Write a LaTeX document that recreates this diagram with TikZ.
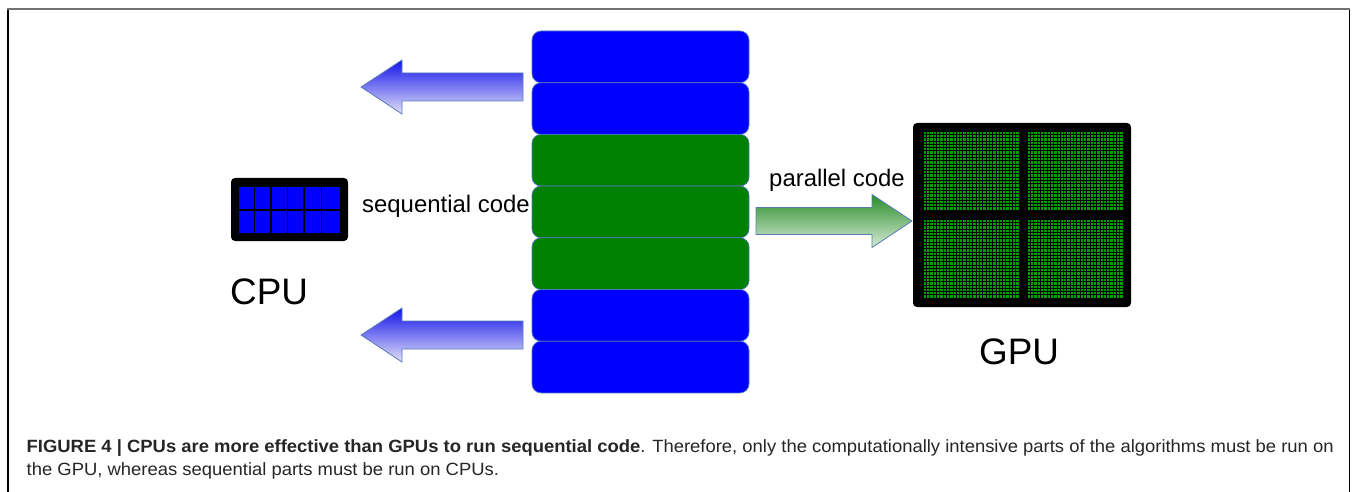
\documentclass[tikz,border=0pt]{standalone}
\usepackage{fontspec}
\setmainfont{Liberation Sans}
\usepackage{graphicx}
\usetikzlibrary{calc}
\definecolor{bblue}{RGB}{0,0,255}
\definecolor{bgreen}{RGB}{0,128,0}
\definecolor{bedge}{RGB}{80,120,190}
\definecolor{gcell}{RGB}{0,160,0}
\definecolor{arrblueT}{RGB}{20,20,235}
\definecolor{arrblueB}{RGB}{225,225,248}
\definecolor{arrgreenT}{RGB}{40,140,40}
\definecolor{arrgreenB}{RGB}{215,235,215}
\definecolor{arredge}{RGB}{90,125,185}
\newsavebox\capbox
\begin{document}
\sbox\capbox{\fontsize{17.8}{20}\selectfont\textbf{FIGURE 4 | CPUs are more effective than GPUs to run sequential code}. Therefore, only the computationally intensive parts of the algorithms must be run on}%
\pgfmathsetmacro\capscale{1307bp/\the\wd\capbox}%
\begin{tikzpicture}[x=1bp,y=-1bp,
  blk/.style={draw=bedge, line width=0.7bp, rounded corners=9bp, minimum width=217bp, minimum height=51.7bp, inner sep=0},
  blueblk/.style={blk, fill=bblue},
  greenblk/.style={blk, fill=bgreen},
  barrow/.style={draw=arredge, line width=0.8bp, top color=arrblueT, bottom color=arrblueB},
  garrow/.style={draw=arredge, line width=0.8bp, top color=arrgreenT, bottom color=arrgreenB},
  lbl/.style={anchor=base west, inner sep=0, font=\fontsize{24}{28}\selectfont},
  biglbl/.style={anchor=base west, inner sep=0, font=\fontsize{37}{42}\selectfont},
  capfont/.style={anchor=base west, inner sep=0, font=\fontsize{17.8}{20}\selectfont, text=black!85}
]
\useasboundingbox (0,0) rectangle (1356,492);
\fill[white] (0,0) rectangle (1356,492);
% frame
\draw[line width=1.3bp] (8,492) -- (8,9);
\draw[line width=1.3bp] (1349.5,9) -- (1349.5,492);
\draw[line width=1.5bp, black!55] (7.35,9) -- (1350.15,9);

% stack of code blocks
\node[blueblk]  (b1) at (640.5,56.85) {};
\node[blueblk]  (b2) at (640.5,108.55) {};
\node[greenblk] (b3) at (640.5,160.25) {};
\node[greenblk] (b4) at (640.5,211.95) {};
\node[greenblk] (b5) at (640.5,263.65) {};
\node[blueblk]  (b6) at (640.5,315.35) {};
\node[blueblk]  (b7) at (640.5,367.05) {};

% left arrows (sequential parts go to CPU)
\coordinate (a1) at (523,87);
\draw[barrow] ($(a1)+(0,-14)$) -- ++(-121,0) -- ++(0,-13) -- ($(a1)+(-162,0)$) -- ($(a1)+(-121,27)$) -- ++(0,-13) -- ($(a1)+(0,14)$) -- cycle;
\coordinate (a2) at (523,335);
\draw[barrow] ($(a2)+(0,-14)$) -- ++(-121,0) -- ++(0,-13) -- ($(a2)+(-162,0)$) -- ($(a2)+(-121,27)$) -- ++(0,-13) -- ($(a2)+(0,14)$) -- cycle;

% right arrow (parallel code goes to GPU)
\coordinate (a3) at (756,221);
\draw[garrow] ($(a3)+(0,-13.5)$) -- ++(116,0) -- ++(0,-13) -- ($(a3)+(156,0)$) -- ($(a3)+(116,26.5)$) -- ++(0,-13) -- ($(a3)+(0,13.5)$) -- cycle;

% labels
\node[lbl] (seq) at (362,213) {sequential code};
\node[lbl] (par) at (769,187) {parallel code};
\node[biglbl] (cpul) at (230,304) {CPU};
\node[biglbl] (gpul) at (979,364) {GPU};

% CPU chip
\node[fill=black, rounded corners=4bp, minimum width=117bp, minimum height=63bp, inner sep=0] (cpu) at (289.5,209.5) {};
\fill[bblue] (239,187) rectangle (340,233);
\foreach \cx in {254.5,271,287.5,304,321.5} {
  \draw[line width=1.3bp] (\cx,187) -- (\cx,233);
}
\draw[line width=1.3bp] (239,210) -- (340,210);

% GPU chip
\node[fill=black, rounded corners=4bp, minimum width=218bp, minimum height=184bp, inner sep=0] (gpu) at (1022,215) {};
\foreach \qx/\qy in {923/131, 1027/131, 923/219, 1027/219} {
  \fill[gcell] (\qx,\qy) rectangle ({\qx+96},{\qy+79});
  \foreach \k in {0,...,29} {
    \draw[line width=0.55bp] ({\qx+\k*3.31},\qy) -- ({\qx+\k*3.31},{\qy+79});
  }
  \foreach \k in {0,...,24} {
    \draw[line width=0.55bp] (\qx,{\qy+\k*3.29}) -- ({\qx+96},{\qy+\k*3.29});
  }
}

% caption
\node[capfont] (cap1) at (26.5,452.5) {\scalebox{\capscale}[1]{\textbf{FIGURE 4 | CPUs are more effective than GPUs to run sequential code}. Therefore, only the computationally intensive parts of the algorithms must be run on}};
\node[capfont] (cap2) at (26.5,475) {\scalebox{\capscale}[1]{the GPU, whereas sequential parts must be run on CPUs.}};
\end{tikzpicture}
\end{document}
